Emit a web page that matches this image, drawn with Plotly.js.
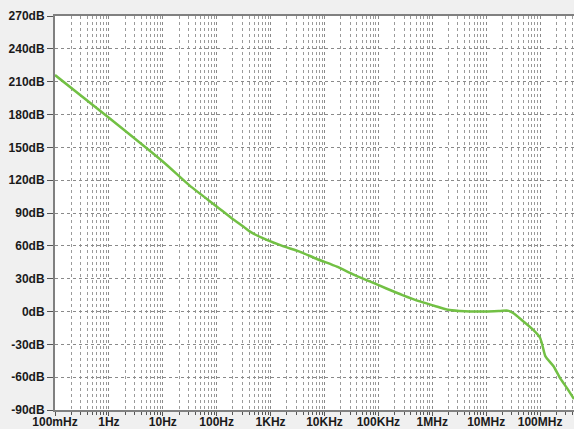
<!DOCTYPE html>
<html>
<head>
<meta charset="utf-8">
<script src="https://cdn.plot.ly/plotly-3.0.1.min.js"></script>
<style>html,body{margin:0;padding:0;background:#f0f0f0;}#chart{width:574px;height:429px;}</style>
</head>
<body>
<div id="chart"></div>
<script>
// Frequency (Hz) and gain (dB)
const freqHz = [0.1, 1, 10, 31.6, 100, 204, 316, 417, 851, 1740, 3550, 7240, 17000, 33900, 69200, 141000, 288000, 589000, 1200000, 1950000, 3160000, 5010000, 10000000, 18200000, 25100000, 31600000, 49000000, 74100000, 100000000, 112000000, 126000000, 178000000, 234000000, 316000000, 427000000];
const gainDb = [216, 177, 137, 115, 96, 84, 77.5, 73, 65.4, 59.5, 54.5, 48, 41, 34, 27.5, 21, 14.8, 9.2, 4.6, 1.6, 0.5, 0, 0, 0.5, 0.8, -1.4, -9, -16.6, -24, -32, -41, -50, -60.7, -70, -80];

const xTickVals = [0.1, 1, 10, 100, 1e3, 1e4, 1e5, 1e6, 1e7, 1e8];
const xTickText = ["100mHz", "1Hz", "10Hz", "100Hz", "1KHz", "10KHz", "100KHz", "1MHz", "10MHz", "100MHz"];
const yTickVals = [-90, -60, -30, 0, 30, 60, 90, 120, 150, 180, 210, 240, 270];
const yTickText = yTickVals.map(v => v + "dB");

const trace = {
  x: freqHz, y: gainDb, type: "scatter", mode: "lines",
  line: {color: "#72c044", width: 2.5, shape: "spline", smoothing: 0.6},
  hoverinfo: "skip"
};

const layout = {
  width: 574, height: 429,
  margin: {l: 55, r: 0, t: 16, b: 19},
  paper_bgcolor: "#f0f0f0", plot_bgcolor: "#ffffff",
  showlegend: false,
  font: {family: "Liberation Sans, Arial, sans-serif", size: 12, color: "#1a1a1a"},
  xaxis: {
    type: "log", range: [-1, 8.63],
    tickvals: xTickVals, ticktext: xTickText,
    tickfont: {size: 12, weight: "bold"},
    ticks: "outside", ticklen: 4, tickcolor: "#555",
    ticklabelstandoff: -4,
    showline: true, linecolor: "#808080", linewidth: 2, mirror: true,
    showgrid: true, gridcolor: "#8a8a8a", griddash: "3px,3px", gridwidth: 1,
    minor: {dtick: "D1", showgrid: true, gridcolor: "#9a9a9a", griddash: "dot", gridwidth: 1, ticks: "outside", ticklen: 3, tickcolor: "#555"},
    zeroline: false, fixedrange: true
  },
  yaxis: {
    range: [-90, 270],
    tickvals: yTickVals, ticktext: yTickText,
    tickfont: {size: 12, weight: "bold"},
    ticks: "outside", ticklen: 6, tickcolor: "#555",
    showline: true, linecolor: "#808080", linewidth: 2,
    showgrid: true, gridcolor: "#8a8a8a", griddash: "3px,3px", gridwidth: 1,
    zeroline: false, fixedrange: true
  }
};

Plotly.newPlot("chart", [trace], layout, {displayModeBar: false, staticPlot: true});
</script>
</body>
</html>
